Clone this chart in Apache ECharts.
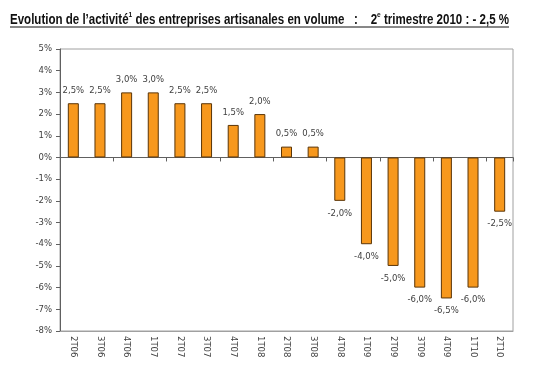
<!DOCTYPE html>
<html><head><meta charset="utf-8">
<script src="https://cdn.jsdelivr.net/npm/echarts@6/dist/echarts.min.js"></script>
<style>html,body{margin:0;padding:0;background:#fff}#c{width:548px;height:366px}</style>
</head><body><div id="c"></div>
<script>
const categories = ['2T06','3T06','4T06','1T07','2T07','3T07','4T07','1T08','2T08','3T08','4T08','1T09','2T09','3T09','4T09','1T10','2T10'];
const values = [2.5, 2.5, 3.0, 3.0, 2.5, 2.5, 1.5, 2.0, 0.5, 0.5, -2.0, -4.0, -5.0, -6.0, -6.5, -6.0, -2.5];
const yMin = -8, yMax = 5, yStep = 1;
const titleParts = ['Evolution de l\u2019activit\u00e9', '1', ' des entreprises artisanales en volume   :    2', 'e', ' trimestre 2010 : - 2,5 %'];

const chart = echarts.init(document.getElementById('c'), null, {renderer: 'canvas'});
const fmt = v => v.toFixed(1).replace('.', ',') + '%';
const labelFont = {fontFamily: 'DejaVu Sans', fontSize: 8.5, color: '#404040'};

// measure title width to condense it to the reference width
const bigFont = 'bold 14px "Liberation Sans"';
const smallFont = 'bold 8px "Liberation Sans"';
const cv = document.createElement('canvas').getContext('2d');
let w = 0;
titleParts.forEach((t, i) => { cv.font = (i % 2 === 1) ? smallFont : bigFont; w += cv.measureText(t).width; });
const targetW = 499;
const sx = targetW / w;
const titleText = titleParts.map((t, i) => '{' + (i % 2 === 1 ? 's' : 'a') + '|' + t + '}').join('');

chart.setOption({
  animation: false,
  graphic: [
    {type: 'text', x: 10, y: 11, scaleX: sx, scaleY: 1,
     style: {text: titleText, rich: {
        a: {fontFamily: 'Liberation Sans', fontWeight: 'bold', fontSize: 14, fill: '#111', lineHeight: 16, verticalAlign: 'bottom'},
        s: {fontFamily: 'Liberation Sans', fontWeight: 'bold', fontSize: 8, fill: '#111', lineHeight: 16, verticalAlign: 'top'}
     }}},
    {type: 'line', shape: {x1: 10, y1: 27, x2: 10 + targetW, y2: 27}, style: {stroke: '#111', lineWidth: 1}}
  ],
  grid: {left: 60, top: 49, right: 35, bottom: 35, show: true, borderColor: '#a0a0a0', borderWidth: 1, backgroundColor: 'transparent'},
  xAxis: [
    {
      type: 'category', data: categories, position: 'bottom',
      axisLine: {onZero: false, lineStyle: {color: '#a0a0a0'}},
      axisTick: {show: false},
      axisLabel: {rotate: -90, margin: 5, fontFamily: 'DejaVu Sans', fontSize: 8.5, color: '#404040'}
    },
    {
      type: 'category', data: categories, position: 'bottom',
      axisLine: {onZero: true, lineStyle: {color: '#606060'}},
      axisTick: {show: true, length: 4, lineStyle: {color: '#606060'}},
      axisLabel: {show: false}
    }
  ],
  yAxis: {
    type: 'value', min: yMin, max: yMax, interval: yStep,
    axisLine: {show: true, lineStyle: {color: '#606060'}},
    axisTick: {show: true, length: 4, lineStyle: {color: '#606060'}},
    splitLine: {show: false},
    axisLabel: {margin: 8, fontFamily: 'DejaVu Sans', fontSize: 8.5, color: '#404040', formatter: v => v + '%'}
  },
  series: [{
    type: 'bar', xAxisIndex: 0, barWidth: 11,
    itemStyle: {color: '#F7981D', borderColor: '#5a3508', borderWidth: 1},
    data: values.map(v => ({value: v, label: {position: v >= 0 ? 'top' : 'bottom'}})),
    label: Object.assign({show: true, distance: 8, formatter: p => fmt(p.value)}, labelFont)
  }]
});
</script></body></html>
